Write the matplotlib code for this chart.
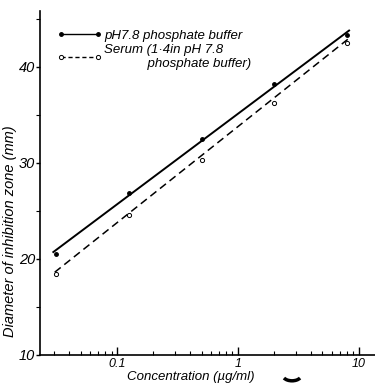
import matplotlib
matplotlib.use("Agg")
from matplotlib import pyplot as plt
from matplotlib.patches import Arc

# concentrations (ug/ml) and zone diameters (mm)
conc = [0.03125, 0.125, 0.5, 2, 8]
d_buffer = [20.5, 26.8, 32.5, 38.2, 43.3]
d_serum = [18.4, 24.6, 30.3, 36.2, 42.5]

# end points of the drawn regression lines
fit_x_buffer = [0.0297, 8.3]
fit_y_buffer = [20.7, 43.75]
fit_x_serum = [0.0305, 8.6]
fit_y_serum = [18.6, 43.1]

xticks = [0.1, 1, 10]
xticklabels = ['0.1', '1', '10']
yticks = [10, 20, 30, 40]

plt.rcParams['font.family'] = ['Liberation Sans', 'DejaVu Sans']
plt.rcParams['font.style'] = 'italic'

fig = plt.figure(figsize=(3.75, 3.87), dpi=100)
ax = fig.add_axes([0.107, 0.083, 0.893, 0.889])

ax.plot(fit_x_buffer, fit_y_buffer, '-', color='black', lw=1.4)
ax.plot(fit_x_serum, fit_y_serum, '--', color='black', lw=1.1, dashes=(5, 3))
ax.plot(conc, d_buffer, 'o', color='black', ms=2.5)
ax.plot(conc, d_serum, 'o', mfc='white', mec='black', mew=0.7, ms=3)

# legend handles
h1, = ax.plot([], [], '-o', color='black', lw=1.0, ms=2.5)
h2, = ax.plot([], [], '--o', color='black', lw=1.0, ms=3, mfc='white', mew=0.7, dashes=(3, 2))
ax.legend([h1, h2], ['pH7.8 phosphate buffer', 'Serum (1·4in pH 7.8\n            phosphate buffer)'],
          loc='upper left', bbox_to_anchor=(0.05, 0.945), frameon=False, numpoints=2,
          borderpad=0, borderaxespad=0,
          handlelength=3.4, handletextpad=0.2, labelspacing=0.15, fontsize=9.5)

ax.set_xscale('log')
ax.set_xlim(0.0231, 13.6)
ax.set_ylim(10, 45.8)
ax.set_xticks(xticks)
ax.set_xticklabels(xticklabels)
ax.set_yticks(yticks)
ax.set_yticks([15, 25, 35, 45], minor=True)

ax.spines['top'].set_visible(False)
ax.spines['right'].set_visible(False)
ax.spines['left'].set_linewidth(1.2)
ax.spines['bottom'].set_linewidth(1.2)

ax.tick_params(axis='x', which='major', direction='in', length=6, width=1, labelsize=9, pad=2)
ax.tick_params(axis='x', which='minor', direction='in', length=3, width=0.8)
ax.tick_params(axis='y', which='major', direction='out', length=3, width=1, labelsize=10.5, pad=0.5)
ax.tick_params(axis='y', which='minor', direction='out', length=3, width=0.8)

ax.set_xlabel('Concentration (µg/ml)', fontsize=9.5)
ax.xaxis.set_label_coords(0.45, -0.048)
ax.xaxis.label.set_verticalalignment('top')
ax.set_ylabel('Diameter of inhibition zone (mm)', fontsize=10.5)
ax.yaxis.set_label_coords(-0.07, 0.36)

# small smile-shaped mark under the axis (scan mark in the original)
fig.add_artist(Arc((292 / 375, 1 - 375 / 387), 0.05, 0.03, theta1=200, theta2=340,
                   transform=fig.transFigure, lw=2.5, color='black'))

fig.savefig('out.png', dpi=100)
